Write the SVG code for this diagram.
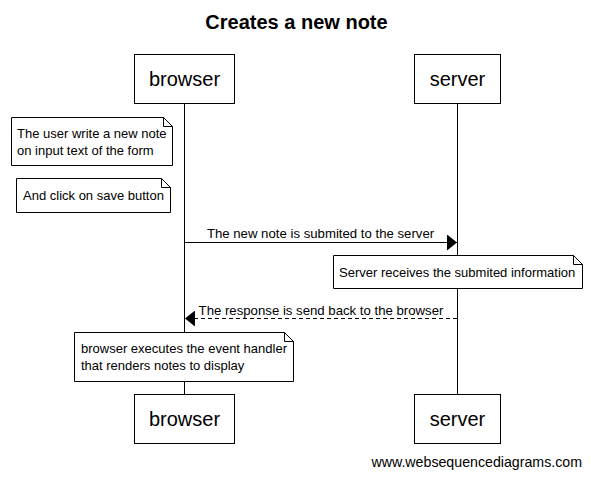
<svg xmlns="http://www.w3.org/2000/svg" width="591" height="477" viewBox="0 0 591 477">
<style>
text{font-family:"Liberation Sans",Arial,sans-serif;fill:#000}
.box{fill:#fff;stroke:#000;stroke-width:1}
.note{fill:#fff;stroke:#000;stroke-width:1}
.life{stroke:#000;stroke-width:1}
.pl{font-size:20px;text-anchor:middle}
.nt{font-size:13px}
.ml{font-size:13.2px;text-anchor:middle}
</style>
<defs>
<marker id="ah" markerWidth="10" markerHeight="16" refX="10" refY="8" orient="auto" markerUnits="userSpaceOnUse">
<path d="M0,0 L10,8 L0,16 Z" fill="#000"/>
</marker>
</defs>
<rect width="591" height="477" fill="#fff"/>
<text x="296.5" y="29" font-size="20" font-weight="bold" text-anchor="middle">Creates a new note</text>
<g id="lifelines">
<line class="life" x1="184.5" y1="103" x2="184.5" y2="394"/>
<line class="life" x1="457.5" y1="103" x2="457.5" y2="394"/>
</g>
<g id="browser-top"><rect class="box" x="134.5" y="54.5" width="100" height="49"/><text class="pl" x="184.5" y="86">browser</text></g>
<g id="server-top"><rect class="box" x="414.5" y="54.5" width="86" height="49"/><text class="pl" x="457.5" y="86">server</text></g>
<g id="note1"><path class="note" d="M11.5,117.5 H163.5 L172.5,126.5 V165.5 H11.5 Z M163.5,117.5 V126.5 H172.5"/><text class="nt" x="17" y="138">The user write a new note</text><text class="nt" x="17" y="155">on input text of the form</text></g>
<g id="note2"><path class="note" d="M16.5,178.5 H161.5 L170.5,187.5 V212.5 H16.5 Z M161.5,178.5 V187.5 H170.5"/><text class="nt" x="23" y="200">And click on save button</text></g>
<g id="note3"><path class="note" d="M333.5,255.5 H573.5 L582.5,264.5 V288.5 H333.5 Z M573.5,255.5 V264.5 H582.5"/><text class="nt" x="339" y="277">Server receives the submited information</text></g>
<g id="note4"><path class="note" d="M74.5,332.5 H284.5 L293.5,341.5 V381.5 H74.5 Z M284.5,332.5 V341.5 H293.5"/><text class="nt" x="81" y="353">browser executes the event handler</text><text class="nt" x="81" y="370">that renders notes to display</text></g>
<g id="connectors">
<line x1="184.5" y1="242.5" x2="457" y2="242.5" stroke="#000" marker-end="url(#ah)"/>
<text class="ml" x="320.5" y="238">The new note is submited to the server</text>
<line x1="457" y1="318.5" x2="185" y2="318.5" stroke="#000" stroke-dasharray="4,3" marker-end="url(#ah)"/>
<text class="ml" x="321" y="315">The response is send back to the browser</text>
</g>
<g id="browser-bottom"><rect class="box" x="134.5" y="394.5" width="100" height="49"/><text class="pl" x="184.5" y="426">browser</text></g>
<g id="server-bottom"><rect class="box" x="414.5" y="394.5" width="86" height="49"/><text class="pl" x="457.5" y="426">server</text></g>
<text x="582" y="467" font-size="14.2" text-anchor="end">www.websequencediagrams.com</text>
</svg>
